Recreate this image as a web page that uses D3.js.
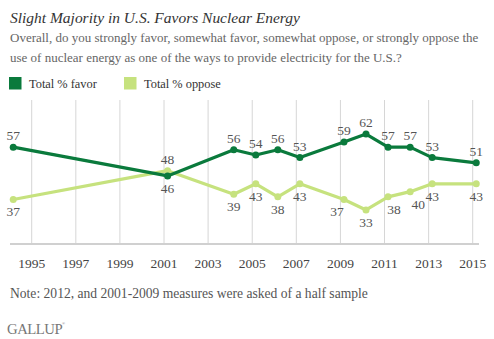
<!DOCTYPE html>
<html><head><meta charset="utf-8">
<script src="https://cdn.jsdelivr.net/npm/d3@7"></script>
<style>
body{margin:0;background:#fff;}
svg{display:block;font-family:"Liberation Serif","Times New Roman",serif;}
</style></head>
<body><svg id="c" width="494" height="339"></svg>
<script>
const dates = ["1994-03","2001-03","2004-03","2005-03","2006-03","2007-03","2009-03","2010-03","2011-03","2012-03","2013-03","2015-03"];
const favor = [57,46,56,54,56,53,59,62,57,57,53,51];
const oppose = [37,48,39,43,38,43,37,33,38,40,43,43];
const tickYears = [1995,1997,1999,2001,2003,2005,2007,2009,2011,2013,2015];
const seriesNames = ["Total % favor","Total % oppose"];

const W=494,H=339;
const svg=d3.select("#c");
const parse=d3.timeParse("%Y-%m");
const dd=dates.map(parse);
const x=d3.scaleTime().domain([new Date(1995,0,1),new Date(2015,0,1)]).range([31.7,472.7]);
const y=d3.scaleLinear().domain([20,75]).range([244,100]);
const cFav="#0a7a3c", cOpp="#c6e27e";

function fit(sel,target){
  const fs=+sel.attr("font-size");
  const w=sel.node().getComputedTextLength();
  const nf=fs*target/w;
  sel.attr("font-size",nf);
  return nf;
}

// title
const title=svg.append("text").attr("x",10).attr("y",23).attr("font-style","italic").attr("font-size",16).attr("fill","#333")
  .text("Slight Majority in U.S. Favors Nuclear Energy");
fit(title,290);
const sub=["Overall, do you strongly favor, somewhat favor, somewhat oppose, or strongly oppose the",
 "use of nuclear energy as one of the ways to provide electricity for the U.S.?"];
const s0=svg.append("text").attr("x",10).attr("y",42).attr("font-size",13).attr("fill","#666").text(sub[0]);
const sf=fit(s0,469);
svg.append("text").attr("x",10).attr("y",61.5).attr("font-size",sf).attr("fill","#666").text(sub[1]);

// legend
const leg=[{n:seriesNames[0],c:cFav,x:9},{n:seriesNames[1],c:cOpp,x:124}];
let lf=null;
leg.forEach(l=>{
  svg.append("rect").attr("x",l.x).attr("y",77).attr("width",12.5).attr("height",12.5).attr("fill",l.c);
  const t=svg.append("text").attr("x",l.x+20).attr("y",88).attr("font-size",13).attr("fill","#333").text(l.n);
  if(lf===null) lf=fit(t,68); else t.attr("font-size",lf);
});

// grid
const g=svg.append("g");
tickYears.forEach(t=>{
  const xx=x(new Date(t,0,1));
  g.append("line").attr("x1",xx).attr("x2",xx).attr("y1",100).attr("y2",244).attr("stroke","#d6d6d6").attr("stroke-width",1);
  g.append("text").attr("x",xx).attr("y",268).attr("text-anchor","middle").attr("font-size",13.5).attr("fill","#444").text(t);
});
g.append("line").attr("x1",10).attr("x2",479).attr("y1",244).attr("y2",244).attr("stroke","#d0d0d0").attr("stroke-width",2);

const line=d3.line().x((d,i)=>x(dd[i])).y(d=>y(d));
function series(vals,c){
  svg.append("path").datum(vals).attr("d",line).attr("fill","none").attr("stroke",c).attr("stroke-width",3.2).attr("stroke-linejoin","round");
  svg.selectAll(null).data(vals).enter().append("circle").attr("cx",(d,i)=>x(dd[i])).attr("cy",d=>y(d)).attr("r",3.5).attr("fill",c);
}
series(oppose,cOpp);
series(favor,cFav);

// labels: favor above unless below oppose
const lab=svg.append("g").attr("font-size",13.5).attr("fill","#555").attr("text-anchor","middle");
const oppNudge=[0,0,0,0,0,0,-7,0,6,8,0,0];
favor.forEach((v,i)=>{
  const above = v>=oppose[i];
  lab.append("text").attr("x",x(dd[i])).attr("y",y(v)+(above?-7:17)).text(v);
  lab.append("text").attr("x",x(dd[i])+oppNudge[i]).attr("y",y(oppose[i])+(above?17:-7)).text(oppose[i]);
});

const note=svg.append("text").attr("x",10).attr("y",298).attr("font-size",12.5).attr("fill","#555")
  .text("Note: 2012, and 2001-2009 measures were asked of a half sample");
fit(note,358);
const gl=svg.append("text").attr("x",7).attr("y",334).attr("font-size",14).attr("fill","#777").attr("letter-spacing",-0.5)
  .text("GALLUP");
fit(gl,55);
svg.append("text").attr("x",62).attr("y",325).attr("font-size",4).attr("fill","#777").text("®");
</script></body></html>
